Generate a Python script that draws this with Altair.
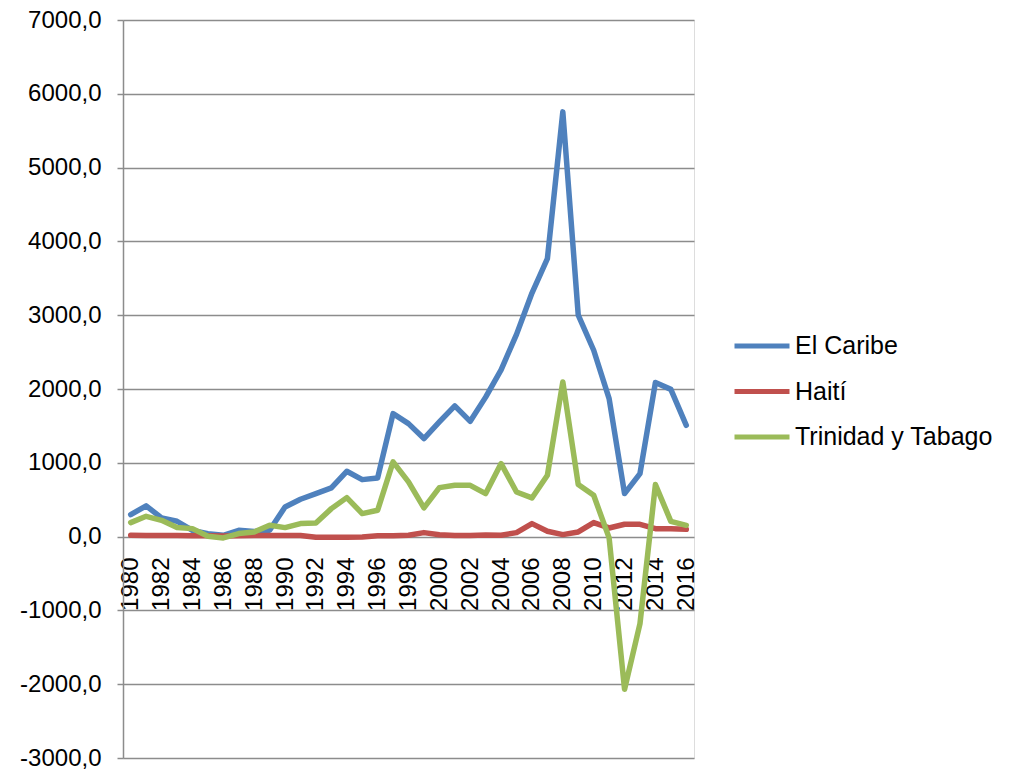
import altair as alt
import pandas as pd

years = list(range(1980, 2017))
el_caribe = [298, 416, 253, 208, 85, 40, 18, 85, 68, 85, 402, 506, 583, 660, 885, 772, 795,
             1667, 1531, 1328, 1554, 1771, 1562, 1890, 2260, 2740, 3300, 3767, 5755, 3000,
             2525, 1870, 583, 854, 2087, 1995, 1508]
haiti = [18, 15, 15, 14, 12, 10, 8, 12, 14, 15, 14, 16, -9, -10, -9, -5, 10,
         12, 18, 54, 25, 15, 15, 20, 18, 54, 176, 72, 27, 63,
         190, 117, 167, 167, 108, 108, 99]
trinidad = [190, 275, 221, 122, 108, 5, -18, 41, 63, 153, 122, 176, 185, 379, 528, 312, 357,
            1012, 741, 389, 664, 695, 695, 583, 989, 605, 524, 831, 2096, 705,
            560, -18, -2069, -1179, 705, 207, 153]

series_names = ["El Caribe", "Haití", "Trinidad y Tabago"]
series_colors = ["#4F81BD", "#C0504D", "#9BBB59"]
y_ticks = [-3000, -2000, -1000, 0, 1000, 2000, 3000, 4000, 5000, 6000, 7000]
x_ticks = list(range(1980, 2017, 2))

rows = []
for name, vals in zip(series_names, [el_caribe, haiti, trinidad]):
    for yr, v in zip(years, vals):
        rows.append({"year": yr, "value": v, "serie": name})
df = pd.DataFrame(rows)

FONT = "Liberation Sans"

chart = alt.Chart(df).mark_line(strokeWidth=5.5, strokeJoin="round", strokeCap="round").encode(
    x=alt.X("year:Q",
            scale=alt.Scale(domain=[1979.5, 2016.5], nice=False, zero=False),
            axis=alt.Axis(values=x_ticks, format="d", labelAngle=-90, labelAlign="right",
                          labelBaseline="middle", labelPadding=19, offset=-220,
                          ticks=False, domain=False, grid=False, title=None,
                          labelFontSize=24, labelFont=FONT, labelColor="black",
                          labelOverlap=False, labelFlush=False)),
    y=alt.Y("value:Q",
            scale=alt.Scale(domain=[-3000, 7000], nice=False),
            axis=alt.Axis(values=y_ticks, title=None, grid=True, gridColor="#8C8C8C",
                          gridWidth=1.5, domainColor="#8C8C8C", domainWidth=1.5,
                          tickColor="#8C8C8C", tickWidth=1.5, tickSize=6, labelPadding=16,
                          labelFontSize=24, labelFont=FONT, labelColor="black",
                          labelExpr="(datum.value < 0 ? '-' : '') + replace(format(abs(datum.value), '.1f'), '.', ',')")),
    color=alt.Color("serie:N",
                    scale=alt.Scale(domain=series_names, range=series_colors),
                    legend=alt.Legend(title=None, orient="none", legendX=609, legendY=296,
                                      symbolType="stroke", symbolSize=3025, symbolStrokeWidth=5,
                                      labelFontSize=25, labelFont=FONT, labelColor="black",
                                      labelOffset=3, rowPadding=2.5, labelLimit=400)),
).properties(
    width=571, height=738,
    autosize=alt.AutoSizeParams(type="none"),
    padding={"left": 123, "top": 20, "right": 317, "bottom": 14},
).configure_view(stroke=None).configure(background="white")

chart.save("out.html", embed_options={"renderer": "svg", "actions": False})
